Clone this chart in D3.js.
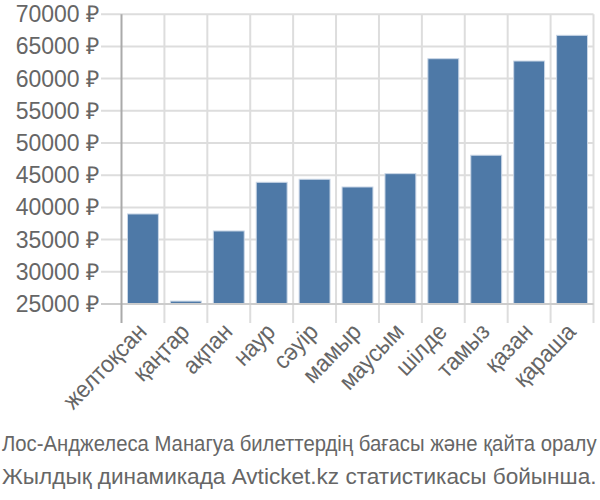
<!DOCTYPE html>
<html><head><meta charset="utf-8">
<script src="https://cdn.jsdelivr.net/npm/d3@7"></script>
<style>
body{margin:0;background:#fff;}
text{font-family:"Liberation Sans",Arial,sans-serif;fill:#666;}
</style></head>
<body><svg id="c" width="600" height="500"></svg>
<script>
const months = ["желтоқсан","қаңтар","ақпан","наур","сәуір","мамыр","маусым","шілде","тамыз","қазан","қараша"];
const prices = [38980, 25450, 36340, 43900, 44370, 43170, 45240, 63090, 48100, 62730, 66720];
const yTicks = [25000,30000,35000,40000,45000,50000,55000,60000,65000,70000];
const caption = ["Лос-Анджелеса Манагуа билеттердің бағасы және қайта оралу","Жылдық динамикада Avticket.kz статистикасы бойынша."];

const svg = d3.select("#c");
const x = d3.scaleBand().domain(months).range([121.5, 593.5]).paddingInner(0.28).paddingOuter(0.14);
const y = d3.scaleLinear().domain([25000,70000]).range([304,14.2]);

svg.append("g").selectAll("line").data(yTicks).join("line")
  .attr("x1",101).attr("x2",593.5)
  .attr("y1",d=>y(d)).attr("y2",d=>y(d))
  .attr("stroke","#ddd").attr("stroke-width",2);
const step = x.step();
const bounds = d3.range(months.length+1).map(i=>x.range()[0]+i*step);
svg.append("g").selectAll("line").data(bounds.slice(1)).join("line")
  .attr("x1",d=>d).attr("x2",d=>d).attr("y1",14.2).attr("y2",323)
  .attr("stroke","#ddd").attr("stroke-width",2);

svg.append("g").selectAll("text").data(yTicks).join("text")
  .attr("x",99).attr("y",d=>y(d)).attr("dy","0.35em")
  .attr("text-anchor","end").attr("font-size",23)
  .text(d=>d+" ₽");

svg.append("g").selectAll("rect").data(prices).join("rect")
  .attr("x",(d,i)=>x(months[i])).attr("width",x.bandwidth())
  .attr("y",d=>y(d)).attr("height",d=>y(25000)-y(d))
  .attr("fill","#4e79a7").attr("stroke","#c9d6e6").attr("stroke-width",1);

svg.append("line").attr("x1",101).attr("x2",593.5).attr("y1",304).attr("y2",304)
  .attr("stroke","#ccc").attr("stroke-width",2);
svg.append("line").attr("x1",bounds[0]).attr("x2",bounds[0]).attr("y1",14.2).attr("y2",323)
  .attr("stroke","#aaa").attr("stroke-width",2);

svg.append("g").selectAll("text").data(months).join("text")
  .attr("transform",d=>`translate(${x(d)+x.bandwidth()/2+5},${333}) rotate(-46) scale(0.93,1)`)
  .attr("text-anchor","end").attr("font-size",24)
  .text(d=>d);

const cap = svg.append("g").selectAll("text").data(caption).join("text")
  .attr("font-size",22)
  .text(d=>d);
cap.each(function(d,i){
  const w = this.getComputedTextLength();
  const s = 595 / w;
  d3.select(this).attr("transform",`translate(2,${451+i*33}) scale(${s},1)`);
});
</script></body></html>
